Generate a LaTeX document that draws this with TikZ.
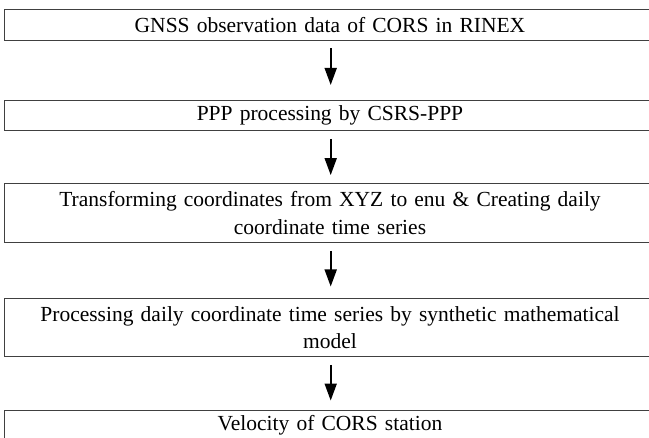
\documentclass[tikz,border=0pt]{standalone}
\usepackage{fontspec}
\setmainfont{Liberation Serif}
\usetikzlibrary{arrows.meta, positioning}

\begin{document}
\begin{tikzpicture}[x=1pt, y=-1pt]
    % styles
    \tikzstyle{stepbox} = [rectangle, draw=black!75, line width=0.9pt, text width=644pt, inner xsep=3.3pt, inner ysep=3pt, align=center, minimum height=30.6pt, font=\fontsize{21.5}{27.5}\selectfont]
    \tikzstyle{arrow} = [line width=1.8pt, -{Triangle[width=12pt,length=17pt]}]

    \useasboundingbox (0,0) rectangle (649,438);
    \clip (0,0) rectangle (649,438);

    % nodes
    \node (rinex) [stepbox] at (330,25) {GNSS observation data of CORS in RINEX};
    \node (ppp) [stepbox] at (330,115.4) {PPP processing by CSRS-PPP};
    \node (enu) [stepbox, minimum height=59.5pt] at (330,213) {Transforming coordinates from XYZ to enu \& Creating daily\\coordinate time series};
    \node (model) [stepbox, minimum height=57.7pt] at (330,327.8) {Processing daily coordinate time series by synthetic mathematical\\model};
    \node (velo) [stepbox] at (330,425.3) {Velocity of CORS station};

    % arrows
    \draw [arrow] ([xshift=0.7pt,yshift=-7.7pt]rinex.south) -- ([xshift=0.7pt,yshift=14.7pt]ppp.north);
    \draw [arrow] ([xshift=0.7pt,yshift=-7.7pt]ppp.south) -- ([xshift=0.7pt,yshift=7.7pt]enu.north);
    \draw [arrow] ([xshift=0.7pt,yshift=-7.7pt]enu.south) -- ([xshift=0.7pt,yshift=12pt]model.north);
    \draw [arrow] ([xshift=0.7pt,yshift=-7.7pt]model.south) -- ([xshift=0.7pt,yshift=9pt]velo.north);
\end{tikzpicture}
\end{document}
